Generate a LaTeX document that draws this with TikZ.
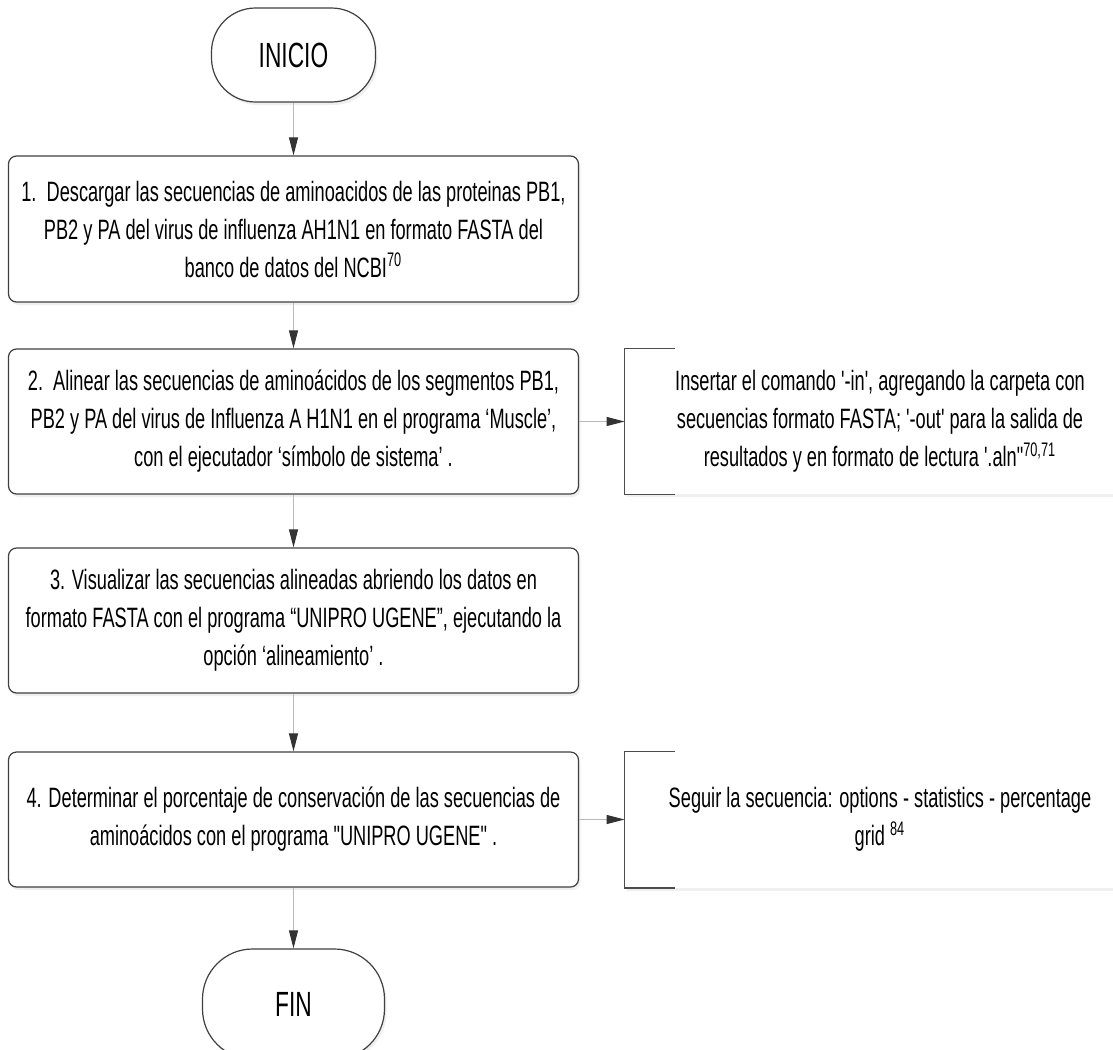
\documentclass[tikz,border=0pt]{standalone}
\usepackage{fontspec}
\setmainfont{Liberation Sans}[FakeStretch=0.65,Ligatures=TeXOff]
\usetikzlibrary{positioning,calc,arrows.meta,shadows}

\tikzset{
  texto/.style={font=\fontsize{14}{19}\selectfont, text=black},
  sombra/.style={drop shadow={opacity=0.12, shadow xshift=1pt, shadow yshift=-1.5pt}},
  terminal/.style={sombra, draw=black!75, line width=0.6pt, fill=white,
    font=\fontsize{17.5}{20}\selectfont, rounded corners=22pt, minimum width=82pt, minimum height=47pt},
  stepbox/.style={texto, sombra, draw=black!75, line width=0.6pt, fill=white,
    rounded corners=4pt, minimum width=285pt, align=center, inner sep=0pt},
  notebox/.style={texto, sombra, fill=white, minimum width=255pt, align=center, inner sep=0pt},
  flecha/.style={draw=gray!55, line width=0.5pt,
    -{Triangle[length=9pt,width=4.5pt,color=gray!40!black]}},
  bracket/.style={draw=black!70, line width=0.6pt}
}

\begin{document}
\begin{tikzpicture}[x=0.5pt,y=-0.5pt]
  \fill[white] (0,0) rectangle (1113,1049);
  \useasboundingbox (0,0) rectangle (1113,1049);

  % % Main column
  \node[terminal] (inicio) at (293.5,55) {INICIO};
  \node[stepbox, minimum height=73pt] (paso1) at (293.5,229)
    {1.\ \ Descargar las secuencias de aminoacidos de las proteinas PB1,\\
     PB2 y PA del virus de influenza AH1N1 en formato FASTA del\\
     banco de datos del NCBI\textsuperscript{70}};
  \node[stepbox, minimum height=72.5pt] (paso2) at (293.5,421.5)
    {2.\ \ Alinear las secuencias de aminoácidos de los segmentos PB1,\\
     PB2 y PA del virus de Influenza A H1N1 en el programa ‘Muscle’,\\
     con el ejecutador ‘símbolo de sistema’ .};
  \node[stepbox, minimum height=72.5pt] (paso3) at (293.5,620.5)
    {3. Visualizar las secuencias alineadas abriendo los datos en\\
     formato FASTA con el programa “UNIPRO UGENE”, ejecutando la\\
     opción ‘alineamiento’ .};
  \node[stepbox, minimum height=67.5pt] (paso4) at (293.5,819.5)
    {4. Determinar el porcentaje de conservación de las secuencias de\\
     aminoácidos con el programa "UNIPRO UGENE" .};
  \node[terminal, minimum width=91pt, minimum height=55pt, rounded corners=25pt] (fin) at (293.5,1004) {FIN};

  % % Side notes
  \node[notebox, minimum height=72.5pt] (nota1) at (880,421.5)
    {Insertar el comando '-in', agregando la carpeta con\\
     secuencias formato FASTA; '-out' para la salida de\\
     resultados y en formato de lectura '.aln"\textsuperscript{70,71}};
  \node[notebox, minimum height=68pt] (nota2) at (880,819.5)
    {Seguir la secuencia: options - statistics - percentage\\
     grid \textsuperscript{84}};
  \draw[bracket] ($(nota1.north west)+(25pt,0)$) -- (nota1.north west) -- (nota1.south west) -- ++(25pt,0);
  \draw[bracket] ($(nota2.north west)+(25pt,0)$) -- (nota2.north west) -- (nota2.south west) -- ++(25pt,0);

  % % Connectors
  \draw[flecha] (inicio) -- (paso1);
  \draw[flecha] (paso1) -- (paso2);
  \draw[flecha] (paso2) -- (paso3);
  \draw[flecha] (paso3) -- (paso4);
  \draw[flecha] (paso4) -- (fin);
  \draw[flecha] (paso2) -- (nota1);
  \draw[flecha] (paso4) -- (nota2);
\end{tikzpicture}
\end{document}
